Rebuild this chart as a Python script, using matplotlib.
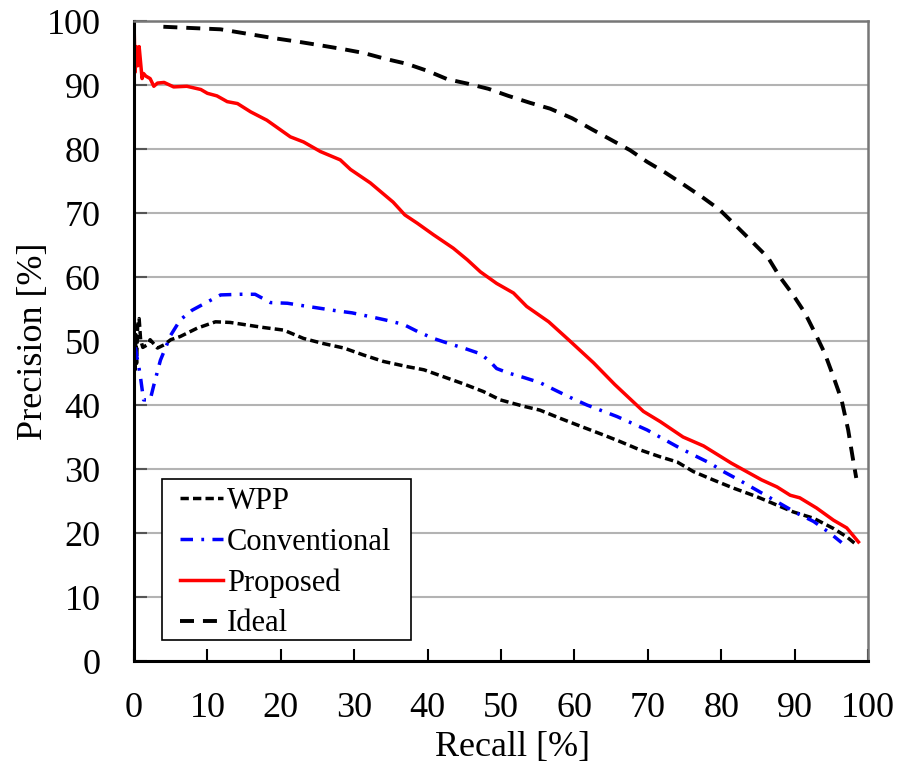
import numpy as np
import matplotlib.pyplot as plt
from matplotlib.patches import Rectangle

plt.rcParams['font.family'] = ['Liberation Serif', 'DejaVu Serif']

# WPP
wpp_x = [0, 0.15, 0.25, 0.35, 0.5, 0.7, 0.9, 1.2, 1.8, 2.2, 3.2, 4.1, 5.0, 6.3, 8.6, 11.1, 13.1,
         15.4, 17.7, 20.4, 23.1, 25.8, 28.6, 31.3, 34.0, 37.2, 39.5, 42.2, 44.9, 47.6, 49.9,
         53.1, 55.3, 58.1, 60.8, 64.0, 66.2, 68.9, 71.7, 74.0, 76.2, 78.9, 81.7, 84.8, 87.1,
         89.8, 92.6, 95.3, 97.1, 98.5]
wpp_y = [48.0, 45.5, 51.0, 46.5, 52.5, 53.5, 50.2, 49.0, 49.4, 50.2, 48.9, 49.4, 50.2, 50.7,
         52.0, 53.0, 52.9, 52.5, 52.1, 51.7, 50.4, 49.6, 48.9, 47.8, 46.8, 46.0, 45.5, 44.4,
         43.3, 42.1, 40.8, 39.8, 39.2, 37.9, 36.7, 35.3, 34.3, 33.0, 31.9, 31.1, 29.6, 28.3,
         27.0, 25.7, 24.6, 23.3, 22.3, 20.7, 19.4, 18.1]

# Conventional
conv_x = [0.2, 0.4, 0.65, 0.9, 1.3, 2.2, 2.7, 3.6, 5.0, 6.3, 7.9, 10.0, 11.8, 14.5, 16.5,
          18.6, 20.9, 23.1, 25.4, 27.7, 29.7, 32.2, 34.2, 36.7, 38.6, 40.8, 42.9, 44.9, 47.2,
          48.5, 49.4, 51.0, 53.1, 55.3, 57.6, 59.4, 61.7, 65.8, 69.9, 74.0, 76.2, 78.5, 80.3,
          82.4, 86.2, 90.3, 92.6, 94.8, 96.4]
conv_y = [49.0, 47.5, 46.0, 44.2, 40.8, 40.8, 43.1, 47.0, 50.9, 53.3, 54.8, 56.1, 57.2, 57.3,
          57.3, 56.0, 55.9, 55.5, 55.1, 54.7, 54.4, 53.8, 53.3, 52.6, 51.5, 50.4, 49.6, 48.9,
          48.0, 46.8, 45.7, 45.0, 44.3, 43.5, 42.2, 41.2, 40.0, 38.2, 36.1, 33.5, 32.2, 30.9,
          29.6, 28.3, 25.8, 23.1, 21.8, 20.0, 18.5]

# Proposed
prop_x = [0, 0.15, 0.3, 0.5, 0.7, 0.9, 1.1, 1.3, 1.6, 2.2, 2.7, 3.2, 4.1, 5.4, 7.2, 9.1, 10.0,
          11.3, 12.7, 14.1, 15.9, 18.1, 21.3, 23.1, 25.4, 28.1, 29.5, 32.2, 35.3, 36.9, 38.6,
          40.8, 43.5, 45.4, 47.2, 49.4, 51.7, 53.5, 56.5, 59.2, 62.6, 65.5, 69.4, 71.7, 74.8,
          77.6, 81.4, 85.5, 87.6, 89.4, 90.7, 93.0, 95.3, 97.1, 98.7]
prop_y = [100.0, 92.0, 96.0, 93.0, 96.0, 93.5, 91.0, 91.8, 91.4, 91.0, 89.8, 90.3, 90.4, 89.7,
          89.8, 89.3, 88.7, 88.3, 87.4, 87.1, 85.8, 84.5, 81.9, 81.1, 79.6, 78.3, 76.8, 74.7,
          71.7, 69.7, 68.4, 66.6, 64.5, 62.7, 60.8, 59.0, 57.5, 55.4, 53.0, 50.2, 46.6, 43.2,
          39.0, 37.4, 35.0, 33.6, 30.9, 28.3, 27.2, 25.9, 25.5, 23.9, 22.0, 20.8, 18.6]

# Ideal
ideal_x = [4.0, 11.8, 18.6, 22.7, 25.4, 28.5, 31.3, 34.2, 37.2, 40.0, 42.7, 45.5, 48.3, 51.0,
           54.0, 56.7, 59.7, 62.5, 64.9, 67.6, 69.9, 72.4, 74.8, 77.4, 79.8, 82.2, 84.4, 86.4,
           88.0, 89.8, 91.4, 92.8, 94.1, 95.2, 96.4, 97.3, 97.9, 98.4]
ideal_y = [99.1, 98.7, 97.4, 96.7, 96.2, 95.6, 95.0, 94.1, 93.3, 92.2, 90.9, 90.2, 89.4, 88.3,
           87.2, 86.3, 84.8, 83.0, 81.5, 79.8, 78.0, 76.3, 74.5, 72.5, 70.5, 67.8, 65.3, 63.0,
           60.0, 57.2, 54.4, 51.2, 48.1, 44.7, 40.8, 36.1, 31.9, 28.6]

fig = plt.figure(figsize=(9, 7.67), dpi=100)
ax = fig.add_axes([134 / 900, 106 / 767, 734 / 900, 640 / 767])

ax.plot(wpp_x, wpp_y, color='black', lw=2.5, ls=(0, (2.4, 1.2)), label='WPP')
ax.plot(conv_x, conv_y, color='blue', lw=2.5, ls=(0, (3.6, 2.4, 0.8, 2.4)), label='Conventional')
ax.plot(prop_x, prop_y, color='red', lw=2.5, label='Proposed')
ax.plot(ideal_x, ideal_y, color='black', lw=2.8, ls=(0, (3.6, 2.3)), label='Ideal')

ax.set_xlim(0, 100)
ax.set_ylim(0, 100)
ax.set_xticks(np.arange(0, 101, 10))
ax.set_yticks(np.arange(0, 101, 10))
ax.yaxis.grid(True, color='#b3b3b3', lw=1.5)
ax.set_axisbelow(True)
ax.tick_params(axis='both', direction='in', length=9, width=1.5, labelsize=26)
ax.tick_params(axis='x', pad=22)
ax.tick_params(axis='y', pad=24, colors='#555555', labelcolor='black')

for s in ['top', 'right']:
    ax.spines[s].set_color('#777777')
    ax.spines[s].set_linewidth(1.8)
for s in ['left', 'bottom']:
    ax.spines[s].set_color('black')
    ax.spines[s].set_linewidth(2.2)

ax.set_xlabel('Recall [%]', fontsize=26)
ax.set_ylabel('Precision [%]', fontsize=26)
ax.xaxis.set_label_coords(0.515, -0.11)
ax.yaxis.set_label_coords(-0.114, 0.5)

# legend box drawn separately so its padding matches the original
box = Rectangle((0.038, 0.033), 0.339, 0.251, transform=ax.transAxes, facecolor='white',
                edgecolor='black', lw=1.2, zorder=4)
ax.add_patch(box)
leg = ax.legend(loc='upper left', bbox_to_anchor=(0.063, 0.272), fontsize=22, handlelength=1.4,
                handletextpad=0.12, labelspacing=0.38, borderpad=0, borderaxespad=0,
                frameon=False)
leg.set_zorder(5)

fig.savefig('out.png', dpi=100)
